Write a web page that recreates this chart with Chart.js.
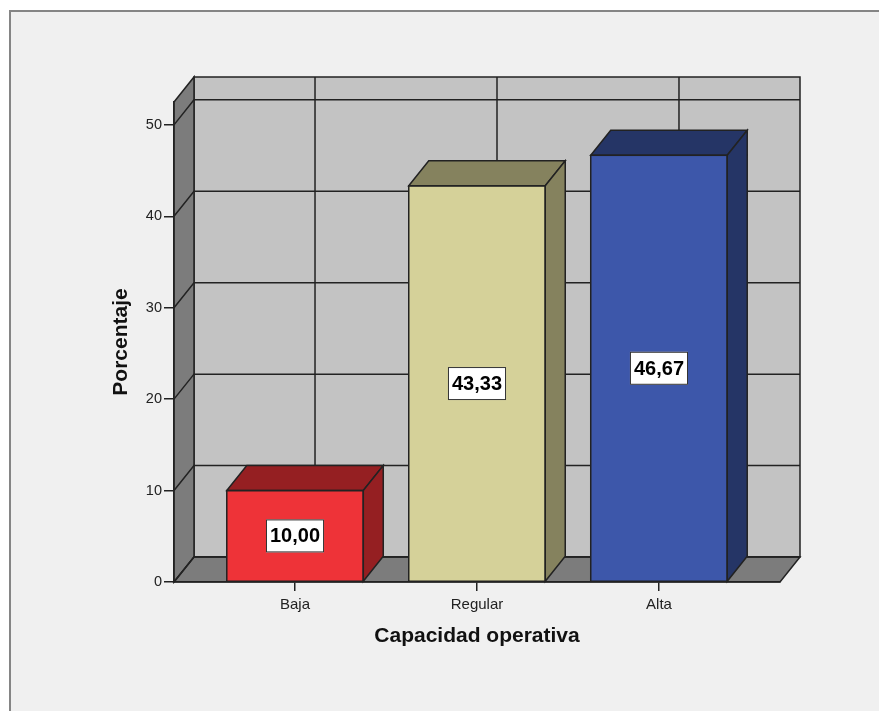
<!DOCTYPE html>
<html lang="es">
<head>
<meta charset="UTF-8">
<title>Capacidad operativa</title>
<style>
  html, body { margin: 0; padding: 0; background: #ffffff; }
  #wrap { position: relative; width: 879px; height: 711px; }
</style>
</head>
<body>
<div id="wrap"><canvas id="myChart" width="879" height="711"></canvas></div>

<script src="https://cdn.jsdelivr.net/npm/chart.js@4.4.1/dist/chart.umd.min.js"></script>
<script>
  // Porcentaje por nivel de capacidad operativa
  var categories = ["Baja", "Regular", "Alta"];
  var percentages = [10.00, 43.33, 46.67];
  var yTicks = [0, 10, 20, 30, 40, 50];

  var frontColors = ["#ee3338", "#d5d199", "#3d57aa"];
  var sideColors = ["#951f22", "#85825e", "#253566"];

  var FONT = "Arial, 'Liberation Sans', Helvetica, sans-serif";
  var LINE = "#222222";

  // depth of the fake 3D box
  var depthX = 20, depthY = -25;

  function poly(ctx, pts, fill) {
    ctx.beginPath();
    ctx.moveTo(pts[0][0], pts[0][1]);
    for (var i = 1; i < pts.length; i++) ctx.lineTo(pts[i][0], pts[i][1]);
    ctx.closePath();
    if (fill) {
      ctx.fillStyle = fill;
      ctx.fill();
    }
    ctx.stroke();
  }

  // walls, floor and grid behind the bars
  var box3d = {
    id: 'box3d',
    beforeDraw: function (chart) {
      var ctx = chart.ctx, a = chart.chartArea;
      var xs = chart.scales.x, ys = chart.scales.y;
      ctx.save();

      // page frame
      ctx.fillStyle = '#ffffff';
      ctx.fillRect(0, 0, chart.width, chart.height);
      ctx.fillStyle = '#f0f0f0';
      ctx.fillRect(10, 10, chart.width, chart.height);
      ctx.strokeStyle = '#858585';
      ctx.lineWidth = 2;
      ctx.beginPath();
      ctx.moveTo(10, chart.height);
      ctx.lineTo(10, 11);
      ctx.lineTo(chart.width, 11);
      ctx.stroke();

      ctx.strokeStyle = LINE;
      ctx.lineWidth = 1.5;
      ctx.lineJoin = 'miter';

      var L = a.left, R = a.right, T = a.top, B = a.bottom;
      // back wall
      poly(ctx, [[L + depthX, T + depthY], [R + depthX, T + depthY], [R + depthX, B + depthY], [L + depthX, B + depthY]], '#c3c3c3');
      // left wall
      poly(ctx, [[L, T], [L + depthX, T + depthY], [L + depthX, B + depthY], [L, B]], '#7c7c7c');
      // floor
      poly(ctx, [[L, B], [L + depthX, B + depthY], [R + depthX, B + depthY], [R, B]], '#7c7c7c');

      // horizontal grid on left and back walls
      yTicks.forEach(function (v) {
        var py = ys.getPixelForValue(v);
        ctx.beginPath();
        ctx.moveTo(L, py);
        ctx.lineTo(L + depthX, py + depthY);
        ctx.lineTo(R + depthX, py + depthY);
        ctx.stroke();
      });

      // vertical grid on back wall, one per category
      categories.forEach(function (c, i) {
        var px = xs.getPixelForValue(i + 1) + depthX;
        ctx.beginPath();
        ctx.moveTo(px, T + depthY);
        ctx.lineTo(px, B + depthY);
        ctx.stroke();
      });

      ctx.restore();
    },

    // top and side faces of each bar plus the value boxes
    afterDatasetsDraw: function (chart) {
      var ctx = chart.ctx;
      var meta = chart.getDatasetMeta(0);
      ctx.save();
      ctx.strokeStyle = LINE;
      ctx.lineWidth = 1.5;
      meta.data.forEach(function (bar, i) {
        var p = bar.getProps(['x', 'y', 'base', 'width'], true);
        var l = p.x - p.width / 2, r = p.x + p.width / 2;
        poly(ctx, [[l, p.y], [l + depthX, p.y + depthY], [r + depthX, p.y + depthY], [r, p.y]], sideColors[i]);
        poly(ctx, [[r, p.y], [r + depthX, p.y + depthY], [r + depthX, p.base + depthY], [r, p.base]], sideColors[i]);
        ctx.strokeRect(l, p.y, p.width, p.base - p.y);
      });

      ctx.font = 'bold 20px ' + FONT;
      ctx.textAlign = 'center';
      ctx.textBaseline = 'middle';
      meta.data.forEach(function (bar, i) {
        var p = bar.getProps(['x', 'y', 'base'], true);
        var txt = percentages[i].toFixed(2).replace('.', ',');
        var cy = (p.y + p.base) / 2;
        var w = ctx.measureText(txt).width + 8;
        var h = 33;
        ctx.fillStyle = '#ffffff';
        ctx.fillRect(p.x - w / 2, cy - h / 2, w, h);
        ctx.lineWidth = 1;
        ctx.strokeStyle = '#333333';
        ctx.strokeRect(p.x - w / 2 + 0.5, cy - h / 2 + 0.5, w - 1, h - 1);
        ctx.fillStyle = '#000000';
        ctx.fillText(txt, p.x, cy + 1);
      });
      ctx.restore();
    }
  };

  var ctx = document.getElementById('myChart').getContext('2d');
  var chart = new Chart(ctx, {
    type: 'bar',
    data: {
      datasets: [{
        data: categories.map(function (c, i) { return { x: i + 1, y: percentages[i] }; }),
        backgroundColor: frontColors,
        borderWidth: 0,
        barPercentage: 0.75,
        categoryPercentage: 1
      }]
    },
    options: {
      responsive: false,
      animation: false,
      devicePixelRatio: 1,
      layout: { padding: { top: 102, right: 99, left: 0, bottom: 0 } },
      plugins: {
        legend: { display: false },
        tooltip: { enabled: false }
      },
      scales: {
        x: {
          type: 'linear',
          offset: false,
          min: 0.335,
          max: 3.665,
          afterFit: function (s) { s.height = 129; },
          afterBuildTicks: function (s) {
            s.ticks = categories.map(function (c, i) { return { value: i + 1 }; });
          },
          ticks: {
            callback: function (v) { return categories[v - 1]; },
            font: { family: FONT, size: 15 },
            color: '#222222',
            padding: 5,
            maxRotation: 0,
            autoSkip: false
          },
          grid: { offset: false, drawOnChartArea: false, drawTicks: true, tickLength: 9, color: LINE, lineWidth: 1.5 },
          border: { display: true, color: LINE, width: 1.5 },
          title: {
            display: true,
            text: 'Capacidad operativa',
            font: { family: FONT, size: 21, weight: 'bold' },
            color: '#111111',
            padding: { top: 0, bottom: 62 }
          }
        },
        y: {
          min: 0,
          max: 52.5,
          afterFit: function (s) { s.width = 174; },
          afterBuildTicks: function (s) {
            s.ticks = yTicks.map(function (v) { return { value: v }; });
          },
          ticks: {
            font: { family: FONT, size: 14.5 },
            color: '#222222',
            padding: 2
          },
          grid: { drawOnChartArea: false, drawTicks: true, tickLength: 10, color: LINE, lineWidth: 1.5 },
          border: { display: true, color: LINE, width: 1.5 },
          title: {
            display: true,
            text: 'Porcentaje',
            font: { family: FONT, size: 21, weight: 'bold' },
            color: '#111111',
            padding: { top: 109, bottom: 0 }
          }
        }
      }
    },
    plugins: [box3d]
  });
</script>
</body>
</html>
